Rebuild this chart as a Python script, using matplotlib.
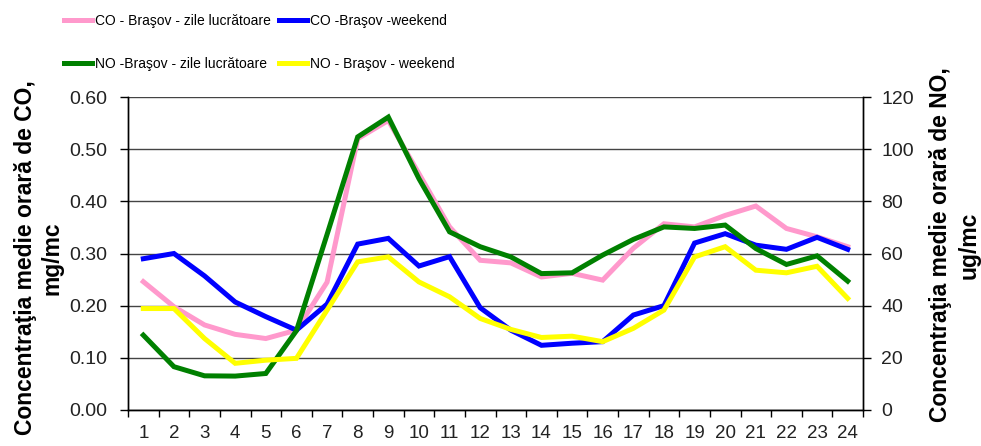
import numpy as np
import matplotlib
matplotlib.use('Agg')
import matplotlib.pyplot as plt
from matplotlib.ticker import FixedLocator, FormatStrFormatter

# -------------------- Data --------------------
HOURS = list(range(1, 25))
# CO, mg/mc (left axis)
CO_WORKDAYS = [0.246, 0.198, 0.163, 0.145, 0.137, 0.153, 0.245, 0.520, 0.555, 0.453, 0.351, 0.287,
               0.282, 0.255, 0.262, 0.249, 0.310, 0.357, 0.351, 0.373, 0.391, 0.348, 0.332, 0.313]
CO_WEEKEND = [0.290, 0.300, 0.257, 0.207, 0.179, 0.153, 0.203, 0.318, 0.329, 0.276, 0.294, 0.196,
              0.153, 0.124, 0.128, 0.131, 0.182, 0.200, 0.320, 0.338, 0.316, 0.308, 0.331, 0.308]
# NO, ug/mc (right axis)
NO_WORKDAYS = [28.7, 16.6, 13.1, 13.0, 14.0, 30.4, 67.3, 104.7, 112.3, 88.7, 68.3, 62.6,
               58.7, 52.3, 52.6, 59.4, 65.4, 70.2, 69.6, 70.9, 61.9, 55.8, 59.1, 49.4]
NO_WEEKEND = [38.9, 38.9, 27.4, 17.9, 19.1, 19.8, 38.3, 56.8, 58.7, 49.1, 43.4, 35.1,
              30.9, 27.8, 28.3, 26.2, 31.3, 38.3, 58.7, 62.6, 53.6, 52.6, 55.1, 42.8]

LABELS = ['CO - Braşov - zile lucrătoare', 'CO -Braşov -weekend',
          'NO -Braşov - zile lucrătoare', 'NO - Braşov - weekend']
COLORS = ['#FF99CC', '#0000FF', '#008000', '#FFFF00']
# ----------------------------------------------

plt.rcParams['font.family'] = ['Liberation Sans', 'DejaVu Sans']
LW = 3.6

fig = plt.figure(figsize=(9.81, 4.46), dpi=100)
ax = fig.add_axes([128 / 981, 1 - 410 / 446, 735 / 981, 313 / 446])
ax2 = ax.twinx()

l1, = ax.plot(HOURS, CO_WORKDAYS, color=COLORS[0], lw=LW, solid_joinstyle='miter', zorder=3)
l2, = ax.plot(HOURS, CO_WEEKEND, color=COLORS[1], lw=LW, solid_joinstyle='miter', zorder=4)
l3, = ax2.plot(HOURS, NO_WORKDAYS, color=COLORS[2], lw=LW, solid_joinstyle='miter', zorder=3)
l4, = ax2.plot(HOURS, NO_WEEKEND, color=COLORS[3], lw=LW, solid_joinstyle='miter', zorder=4)

# left axis (CO)
ax.set_xlim(0.5, 24.5)
ax.set_ylim(0, 0.6)
ax.set_yticks(np.arange(0, 0.61, 0.1))
ax.yaxis.set_major_formatter(FormatStrFormatter('%.2f'))
ax.grid(axis='y', color='#444444', lw=1.0)
ax.set_axisbelow(True)

# x axis: tick marks at category borders, labels in the middle
ax.xaxis.set_major_locator(FixedLocator(np.arange(0.5, 25, 1)))
ax.xaxis.set_minor_locator(FixedLocator(HOURS))
ax.set_xticklabels([])
ax.set_xticklabels([str(h) for h in HOURS], minor=True)
ax.tick_params(axis='x', which='major', length=5, width=1, direction='out')
ax.tick_params(axis='x', which='minor', length=0, pad=11, labelsize=13.5, labelcolor='#222222')
ax.tick_params(axis='y', length=6, width=1, direction='out', pad=9, labelsize=14, labelcolor='#222222')

# right axis (NO)
ax2.set_ylim(0, 120)
ax2.set_yticks(np.arange(0, 121, 20))
ax2.tick_params(axis='y', length=6, width=1, direction='out', pad=7, labelsize=14, labelcolor='#222222')

for a in (ax, ax2):
    a.spines['top'].set_visible(False)
    for s in ('left', 'right', 'bottom'):
        a.spines[s].set_color('black')
        a.spines[s].set_linewidth(1.0)

# axis titles
fig.text(26 / 981, 1 - 258 / 446, 'Concentraţia medie orară de CO,', rotation=90,
         ha='center', va='center', fontsize=16.5, fontweight='bold')
fig.text(52 / 981, 1 - 258 / 446, 'mg/mc', rotation=90,
         ha='center', va='center', fontsize=16.5, fontweight='bold')
fig.text(941 / 981, 1 - 245 / 446, 'Concentraţia medie orară de NO,', rotation=90,
         ha='center', va='center', fontsize=16.5, fontweight='bold')
fig.text(969 / 981, 1 - 245 / 446, 'ug/mc', rotation=90,
         ha='center', va='center', fontsize=16.5, fontweight='bold')

# legend: two columns placed separately
leg_kw = dict(loc='upper left', frameon=False, borderpad=0, borderaxespad=0,
              handlelength=2.0, handletextpad=0.2, labelspacing=2.1, fontsize=10)
fig.legend([l1, l3], [LABELS[0], LABELS[2]], bbox_to_anchor=(64 / 981, 1 - 14 / 446), **leg_kw)
fig.legend([l2, l4], [LABELS[1], LABELS[3]], bbox_to_anchor=(279 / 981, 1 - 14 / 446), **leg_kw)

fig.savefig('out.png', dpi=100)
